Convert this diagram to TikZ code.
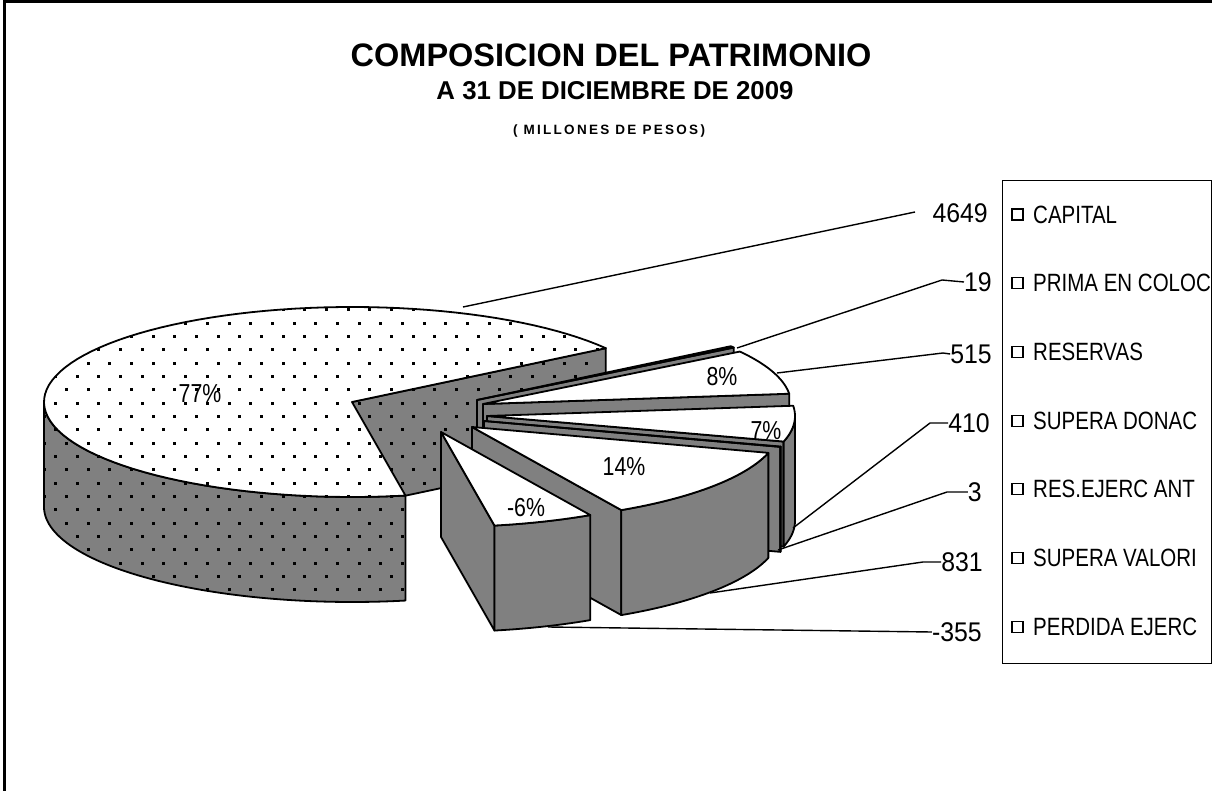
\documentclass[tikz,border=0pt]{standalone}
\usepackage{fontspec}
\usepackage{graphicx}
\setmainfont{Liberation Sans}
\definecolor{sidegray}{HTML}{808080}
\tikzset{
  outl/.style={draw=black,line width=1.8pt,line join=round},
  sideface/.style={outl,fill=sidegray},
  topface/.style={outl,fill=white},
  fillside/.style={fill=sidegray},
  filltop/.style={fill=white},
  leader/.style={draw=black,line width=1.4pt},
  vallabel/.style={font=\fontsize{27}{27}\selectfont,inner sep=0pt,anchor=east},
  pctlabel/.style={font=\fontsize{26}{26}\selectfont,inner sep=0pt},
  legtext/.style={font=\fontsize{25}{25}\selectfont,inner sep=0pt,anchor=west},
  legmark/.style={draw=black,line width=1.1pt,minimum size=11pt,inner sep=0pt},
}
\newcommand\radface[4][sideface]{\path[#1] (#2,#3) -- ({#2+308*cos(#4)},{#3-95*sin(#4)}) -- ({#2+308*cos(#4)},{#3-95*sin(#4)+105}) -- (#2,{#3+105}) -- cycle;}
\newcommand\wallface[5][sideface]{\path[#1] plot[domain=#4:#5,samples=60] ({#2+308*cos(\x)},{#3-95*sin(\x)}) -- plot[domain=#5:#4,samples=60] ({#2+308*cos(\x)},{#3-95*sin(\x)+105}) -- cycle;}
\newcommand\topfc[5][topface]{\path[#1] (#2,#3) -- plot[domain=#4:#5,samples=90] ({#2+308*cos(\x)},{#3-95*sin(\x)}) -- cycle;}
\newcommand\dotgrid{\foreach \k in {-3,...,21}{\foreach \j in {-20,...,8}{\fill ({455+21.667*\j-10.833*mod(\k+100,2)},{335+13.333*\k}) rectangle ++(3,3);}}}
\newcommand\cnd[2]{\scalebox{#1}[1]{#2}}
\begin{document}
\begin{tikzpicture}[x=1pt,y=-1pt]
\useasboundingbox (0,0) rectangle (1212,791);
\fill[white] (0,0) rectangle (1212,791);
\draw[line width=3pt] (4,791) -- (4,2) -- (1212,2);

% titles
\node[font=\fontsize{32.5}{33}\selectfont\bfseries,anchor=base,inner sep=0pt] (title) at (611,67) {COMPOSICION DEL PATRIMONIO};
\node[font=\fontsize{25.8}{26}\selectfont\bfseries,anchor=base,inner sep=0pt] (subtitle) at (615,100) {A 31 DE DICIEMBRE DE 2009};
\node[font=\fontsize{13.5}{14}\selectfont\bfseries\addfontfeature{LetterSpace=17},anchor=base,inner sep=0pt] (units) at (609,135) {( MILLONES DE PESOS)};

% CAPITAL (dotted)
\radface[fillside]{352}{402}{34.5}
\begin{scope}\radface[clip]{352}{402}{34.5}\dotgrid\end{scope}
\radface[outl]{352}{402}{34.5}
\wallface[fillside]{352}{402}{180}{280}
\begin{scope}\wallface[clip]{352}{402}{180}{280}\dotgrid\end{scope}
\wallface[outl]{352}{402}{180}{280}
\topfc[filltop]{352}{402}{34.5}{280}
\begin{scope}\topfc[clip]{352}{402}{34.5}{280}\dotgrid\end{scope}
\topfc[outl]{352}{402}{34.5}{280}

% PRIMA EN COLOC
\radface{477}{400}{33.5}
\topfc{477}{400}{33.5}{34.5}
% RESERVAS
\radface{483}{404}{6.2}
\topfc{483}{404}{6.2}{33.5}
% SUPERA DONAC
\radface{487}{416}{-15.6}
\wallface{487}{416}{-15.6}{0}
\topfc{487}{416}{-15.6}{6.2}
% RES.EJERC ANT
\radface{484}{421}{-15.8}
\wallface{484}{421}{-15.8}{-15.6}
\topfc{484}{421}{-15.8}{-15.6}
% SUPERA VALORI
\radface{472}{427}{-61}
\wallface{472}{427}{-61}{-15.8}
\topfc{472}{427}{-61}{-15.8}
% PERDIDA EJERC
\radface{441}{432}{-80}
\wallface{441}{432}{-80}{-61}
\topfc{441}{432}{-80}{-61}

% percentage labels
\node[pctlabel] (p77) at (200,394) {\cnd{0.82}{77\%}};
\node[pctlabel] (p8) at (722,377) {\cnd{0.82}{8\%}};
\node[pctlabel] (p7) at (766,431) {\cnd{0.82}{7\%}};
\node[pctlabel] (p14) at (624,467) {\cnd{0.82}{14\%}};
\node[pctlabel] (p6) at (526,508) {\cnd{0.82}{-6\%}};

% value labels
\node[vallabel] (v1) at (988,213) {\cnd{0.92}{4649}};
\node[vallabel] (v2) at (992,282) {\cnd{0.92}{19}};
\node[vallabel] (v3) at (992,354) {\cnd{0.92}{515}};
\node[vallabel] (v4) at (990,423) {\cnd{0.92}{410}};
\node[vallabel] (v5) at (982,492) {\cnd{0.92}{3}};
\node[vallabel] (v6) at (983,562) {\cnd{0.92}{831}};
\node[vallabel] (v7) at (982,632) {\cnd{0.92}{-355}};

% leader lines
\coordinate (s1) at (463,307); \coordinate (e1) at (915,212);
\coordinate (s2) at (737,348); \coordinate (b2) at (942,280);
\coordinate (s3) at (777,373); \coordinate (b3) at (943,353);
\coordinate (s4) at (793,528); \coordinate (b4) at (930,423);
\coordinate (s5) at (778,550); \coordinate (b5) at (947,492);
\coordinate (s6) at (710,593); \coordinate (b6) at (923,562);
\coordinate (s7) at (548,627);
\draw[leader] (s1) -- (e1);
\draw[leader] (s2) -- (b2) -- (v2.west);
\draw[leader] (s3) -- (b3) -- (v3.west);
\draw[leader] (s4) -- (b4) -- (v4.west);
\draw[leader] (s5) -- (b5) -- (v5.west);
\draw[leader] (s6) -- (b6) -- (v6.west);
\draw[leader] (s7) -- (v7.west);

% legend
\node[draw=black,line width=1.3pt,minimum width=209pt,minimum height=483pt,anchor=north west,inner sep=0pt] (legend) at (1002,180) {};
\foreach \i/\t in {0/CAPITAL,1/PRIMA EN COLOC,2/RESERVAS,3/SUPERA DONAC,4/RES.EJERC ANT,5/SUPERA VALORI,6/PERDIDA EJERC}{
  \node[legmark] (m\i) at (1017.5,{214.5+68.7*\i}) {};
  \node[legtext] (t\i) at (1033,{214.5+68.7*\i}) {\cnd{0.82}{\t}};
}
\end{tikzpicture}
\end{document}
